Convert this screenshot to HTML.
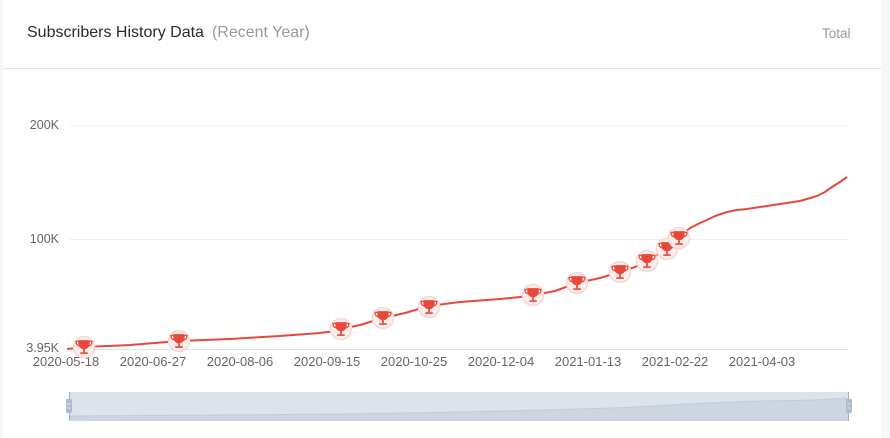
<!DOCTYPE html>
<html><head><meta charset="utf-8"><style>
html,body{margin:0;padding:0;width:890px;height:438px;overflow:hidden;background:#f7f7f9;font-family:"Liberation Sans",sans-serif;}
.card{position:absolute;left:3px;top:0;width:878px;height:438px;background:#fff;}
.hdr{position:absolute;left:0;top:0;width:878px;height:68px;border-bottom:1px solid #e6e6e6;}
.t{position:absolute;left:24px;top:24px;font-size:16px;color:#2b2b2b;white-space:nowrap;}
.t span{color:#999;margin-left:8px;}
.tot{position:absolute;left:819px;top:26px;font-size:13.5px;color:#9a9a9a;}
svg{position:absolute;left:0;top:0;}
</style></head><body>
<div class="card"><div class="hdr"><div class="t">Subscribers History Data<span>(Recent Year)</span></div><div class="tot">Total</div></div></div>
<svg width="890" height="438" viewBox="0 0 890 438">
<g stroke="#efefef" stroke-width="1">
<line x1="70" y1="125.5" x2="848" y2="125.5"/>
<line x1="70" y1="239.5" x2="848" y2="239.5"/>
<line x1="70" y1="349.5" x2="848" y2="349.5" stroke="#e0e0e0"/>
</g>
<g font-size="12.5" fill="#666" text-anchor="end" font-family="Liberation Sans,sans-serif">
<text x="59" y="129">200K</text>
<text x="59" y="243">100K</text>
<text x="59" y="352">3.95K</text>
</g>
<g font-size="13" fill="#666" text-anchor="middle" font-family="Liberation Sans,sans-serif">
<text x="66" y="366">2020-05-18</text>
<text x="153" y="366">2020-06-27</text>
<text x="240" y="366">2020-08-06</text>
<text x="327" y="366">2020-09-15</text>
<text x="414" y="366">2020-10-25</text>
<text x="501" y="366">2020-12-04</text>
<text x="588" y="366">2021-01-13</text>
<text x="675" y="366">2021-02-22</text>
<text x="762" y="366">2021-04-03</text>
</g>
<polyline fill="none" stroke="#e8483a" stroke-width="2" stroke-linejoin="round" points="67,349 84,347 130,345 179,341 230,339 280,336 320,333 335,331 341,329 360,325 383,318 405,313 429,306 460,302 500,299 520,297 534,295 555,291 577,283 600,278 620,272 635,267 647,261 657,255 667,249 673,244 679,238 685,232 690,228 700,223 707,220 715,216 727,212 737,210 747,209 760,207 780,204 800,201 817,196 825,192 832,187 840,182 847,177"/>
<defs>
<g id="tr">
<circle r="10.5" fill="#fdeeed" stroke="#f9d6d2" stroke-width="1.5"/>
<g transform="scale(1.25)">
<path d="M-4.5,-5.5 h9 v2.8 a4.5,4.5 0 0 1 -9,0 z" fill="#e8483a"/>
<path d="M-4.5,-4.5 h-1.8 v1 a2.5,2.5 0 0 0 2.5,2.5 M4.5,-4.5 h1.8 v1 a2.5,2.5 0 0 1 -2.5,2.5" fill="none" stroke="#e8483a" stroke-width="1"/>
<rect x="-0.7" y="1.3" width="1.4" height="3" fill="#e8483a"/>
<rect x="-3" y="4.2" width="6" height="1.3" fill="#e8483a"/>
</g>
</g>
</defs>
<use href="#tr" x="84" y="347"/>
<use href="#tr" x="179" y="341"/>
<use href="#tr" x="341" y="329"/>
<use href="#tr" x="383" y="318"/>
<use href="#tr" x="429" y="307"/>
<use href="#tr" x="533" y="295"/>
<use href="#tr" x="577" y="283"/>
<use href="#tr" x="620" y="272"/>
<use href="#tr" x="647" y="261"/>
<use href="#tr" x="667" y="249"/>
<use href="#tr" x="679" y="238"/>
<rect x="69" y="392" width="780" height="29" fill="#dde3eb"/>
<path d="M69,416 L179,415.3 L341,414 L429,412.6 L534,410.3 L620,407.8 L680,404.4 L707,403 L747,401.3 L817,400 L847,398 L849,398 L849,421 L69,421 Z" fill="#cdd5e0"/>
<path d="M69,416 L179,415.3 L341,414 L429,412.6 L534,410.3 L620,407.8 L680,404.4 L707,403 L747,401.3 L817,400 L847,398" fill="none" stroke="#c3ccd9" stroke-width="1"/>
<line x1="69.5" y1="392" x2="69.5" y2="421" stroke="#9fadc2" stroke-width="1"/>
<line x1="848.5" y1="392" x2="848.5" y2="421" stroke="#9fadc2" stroke-width="1"/>
<rect x="66" y="399" width="6" height="14" rx="1" fill="#aebad0"/>
<rect x="846" y="399" width="6" height="14" rx="1" fill="#aebad0"/>
<g stroke="#e6ebf2" stroke-width="1"><line x1="67.5" y1="404" x2="70.5" y2="404"/><line x1="67.5" y1="408" x2="70.5" y2="408"/><line x1="847.5" y1="404" x2="850.5" y2="404"/><line x1="847.5" y1="408" x2="850.5" y2="408"/></g>
</svg>
</body></html>
